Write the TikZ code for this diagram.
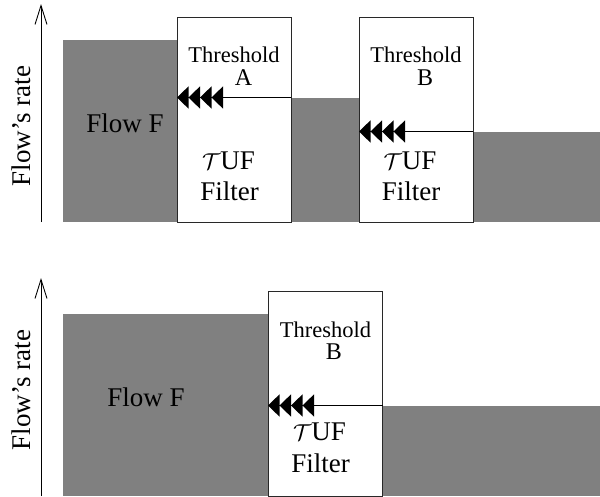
\RequirePackage{fix-cm}
\documentclass[tikz,border=0pt]{standalone}
\usepackage{fontspec}
\setmainfont{Liberation Serif}
\usetikzlibrary{arrows.meta}
\definecolor{flowgray}{RGB}{128,128,128}
\definecolor{boxline}{RGB}{40,40,40}
\newcommand{\calT}{{\fontsize{23}{26}\selectfont$\mathcal{T}$}}
\tikzset{
  flow/.style={fill=flowgray, draw=none},
  filterbox/.style={draw=boxline, fill=white, line width=1pt, inner sep=0pt,
    minimum width=114pt, minimum height=205pt, anchor=north west},
  thr/.style={anchor=base, inner sep=0pt, font=\fontsize{22.5}{26}\selectfont},
  letter/.style={anchor=base, inner sep=0pt, font=\fontsize{24}{28}\selectfont},
  big/.style={anchor=base, inner sep=0pt, font=\fontsize{27}{32}\selectfont},
  ratelbl/.style={anchor=base, inner sep=0pt, rotate=90, font=\fontsize{27}{32}\selectfont},
  axisline/.style={line width=0.9pt, -{Straight Barb[length=19pt,width=12pt]}},
  limitarrow/.style={line width=1.4pt, line join=miter,
    -{Triangle[length=11.5pt,width=22pt,sep=0pt]Triangle[length=11.5pt,width=22pt,sep=0pt]Triangle[length=11.5pt,width=22pt,sep=0pt]Triangle[length=11.5pt,width=22pt,sep=0pt]}}
}
\begin{document}
\begin{tikzpicture}[x=1pt,y=-1pt]
\useasboundingbox (0,0) rectangle (600,496);
% ---------- top panel ----------
\fill[flow] (63,40) rectangle (177,222);
\fill[flow] (291,97.5) rectangle (359,222);
\fill[flow] (473,131.5) rectangle (600,222);
\node[filterbox] (boxA) at (177,17) {};
\node[filterbox] (boxB) at (359,17) {};
\coordinate (tailA) at (291,97.5);
\coordinate (tailB) at (473,131.5);
\draw[limitarrow] (tailA) -- (boxA.west |- tailA);
\draw[limitarrow] (tailB) -- (boxB.west |- tailB);
\node[thr] (thrA) at (234,62) {Threshold};
\node[letter] (letA) at (243.5,85) {A};
\node[thr] (thrB) at (416,62) {Threshold};
\node[letter] (letB) at (425,85) {B};
\node[big] (flowF1) at (125,132) {Flow F};
\node[big] (tufA) at (228.5,169) {\calT UF};
\node[big] (filA) at (229.5,200) {Filter};
\node[big] (tufB) at (410,169) {\calT UF};
\node[big] (filB) at (411,200) {Filter};
\coordinate (ax1b) at (41,222);
\coordinate (ax1t) at (41,4);
\draw[axisline] (ax1b) -- (ax1t);
\node[ratelbl] (rate1) at (30,126) {Flow’s rate};
% ---------- bottom panel ----------
\fill[flow] (63,313.5) rectangle (268,496);
\fill[flow] (383,405.5) rectangle (600,496);
\node[filterbox] (boxC) at (268,291) {};
\coordinate (tailC) at (383,405.5);
\draw[limitarrow] (tailC) -- (boxC.west |- tailC);
\node[thr] (thrC) at (325.5,337) {Threshold};
\node[letter] (letC) at (334,359) {B};
\node[big] (flowF2) at (146,406) {Flow F};
\node[big] (tufC) at (319.5,440) {\calT UF};
\node[big] (filC) at (320.5,472) {Filter};
\coordinate (ax2b) at (41,496);
\coordinate (ax2t) at (41,278);
\draw[axisline] (ax2b) -- (ax2t);
\node[ratelbl] (rate2) at (30,390) {Flow’s rate};
\end{tikzpicture}
\end{document}
